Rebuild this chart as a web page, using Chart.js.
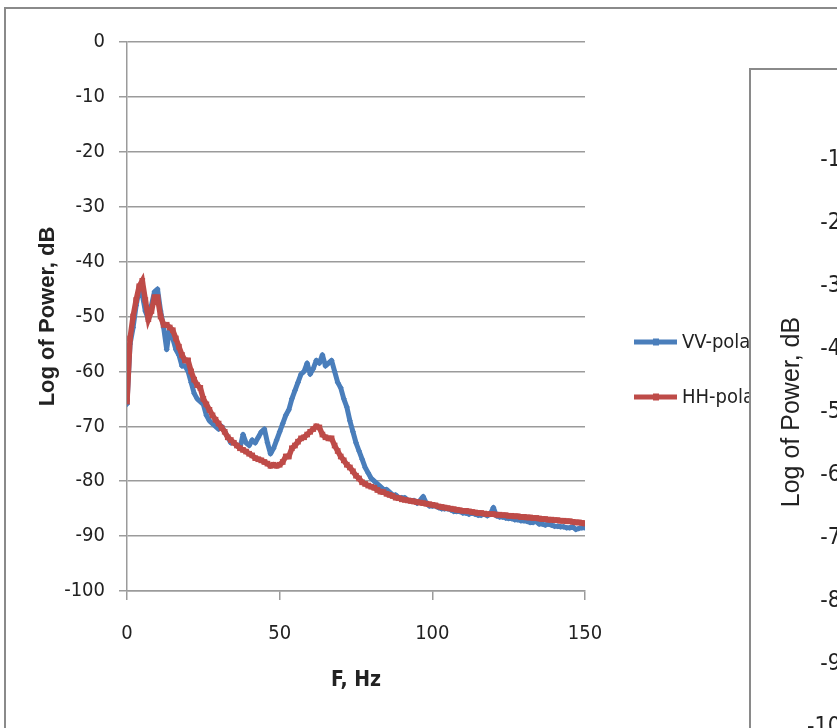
<!DOCTYPE html>
<html>
<head>
<meta charset="utf-8">
<script src="https://cdn.jsdelivr.net/npm/chart.js@4.4.1/dist/chart.umd.min.js"></script>
<style>
    html, body { margin: 0; padding: 0; background: #fff; overflow: hidden; width: 837px; height: 728px; }
    .panel { position: absolute; background: #fff; border: 2px solid #8a8a8a; }
    #leftPanel { left: 4px; top: 7px; width: 1000px; height: 800px; }
    #rightPanel { left: 749px; top: 68px; width: 400px; height: 800px; }
    canvas { position: absolute; }
</style>
</head>
<body>
<div class="panel" id="leftPanel"><canvas id="specChart" width="800" height="719"></canvas></div>
<div class="panel" id="rightPanel"><canvas id="specChart2" width="300" height="700"></canvas></div>
<script>
// Frequency axis, Hz
const freqHz = [
    0, 1, 2, 3, 4, 5, 6, 7, 8, 9, 10, 11, 12, 13, 14, 15, 16, 17, 18, 19,
    20, 21, 22, 23, 24, 25, 26, 27, 28, 29, 30, 31, 32, 33, 34, 35, 36, 37, 38, 39,
    40, 41, 42, 43, 44, 45, 46, 47, 48, 49, 50, 51, 52, 53, 54, 55, 56, 57, 58, 59,
    60, 61, 62, 63, 64, 65, 66, 67, 68, 69, 70, 71, 72, 73, 74, 75, 76, 77, 78, 79,
    80, 81, 82, 83, 84, 85, 86, 87, 88, 89, 90, 91, 92, 93, 94, 95, 96, 97, 98, 99,
    100, 101, 102, 103, 104, 105, 106, 107, 108, 109, 110, 111, 112, 113, 114, 115, 116, 117, 118, 119,
    120, 121, 122, 123, 124, 125, 126, 127, 128, 129, 130, 131, 132, 133, 134, 135, 136, 137, 138, 139,
    140, 141, 142, 143, 144, 145, 146, 147, 148, 149, 150
];

// VV-polarization spectrum, dB
const vvPower = [
    -66, -55, -52, -48, -45, -46, -49, -50.5, -48, -45.5, -45, -49, -52, -56, -52, -54, -56, -57, -59, -59,
    -60, -62, -64, -65, -65.5, -66, -68, -69, -69.5, -70, -70.5, -70, -71, -72, -73, -73, -73.5, -74, -71.5, -73,
    -73.5, -72.5, -73, -72, -71, -70.5, -73, -75, -74, -72.5, -71, -69.5, -68, -67, -65, -63.5, -62, -60.5, -60, -58.5,
    -60.5, -59.5, -58, -58.5, -57, -59, -58.5, -58, -60, -62, -63, -65, -66.5, -69, -71, -73, -74.5, -76, -77.5, -78.5,
    -79.5, -80, -80.5, -81, -81.5, -81.5, -82, -82.5, -82.5, -83, -83, -83, -83.5, -83.5, -83.5, -84, -83.5, -82.8, -84, -84.5,
    -84.5, -84.5, -84.8, -85, -85, -85, -85.2, -85.5, -85.5, -85.5, -85.8, -85.8, -86, -85.8, -86, -86.2, -86.2, -86, -86.3, -86,
    -84.8, -86.3, -86.5, -86.5, -86.7, -86.8, -86.8, -87, -87, -87.2, -87.2, -87.3, -87.5, -87.5, -87.3, -87.8, -87.8, -88, -87.8, -88,
    -88.2, -88.2, -88.3, -88.3, -88.5, -88.5, -88.3, -88.8, -88.6, -88.5, -88.5
];

// HH-polarization spectrum, dB
const hhPower = [
    -65.5, -54, -50, -47, -44.5, -43.5, -47, -50.5, -49, -46.5, -46.5, -50, -51.5, -51.5, -52, -52.5, -54, -55.5, -57, -58,
    -58, -60, -61.5, -62.5, -63, -65, -66, -67, -68, -68.8, -69.5, -70.3, -71, -72, -72.5, -73, -73.5, -74, -74.3, -74.6,
    -75, -75.3, -75.8, -76, -76.2, -76.5, -76.8, -77.2, -77, -77.2, -77, -76.5, -75.5, -75.5, -74, -73.5, -72.8, -72.2, -72, -71.5,
    -71, -70.5, -70, -70.2, -71.5, -72, -72.2, -72.2, -73.5, -74.5, -75.5, -76.2, -77, -77.5, -78.2, -79, -79.5, -80.2, -80.5, -80.8,
    -81, -81.2, -81.6, -81.9, -82, -82.3, -82.5, -82.7, -83, -83.1, -83.3, -83.4, -83.5, -83.6, -83.7, -83.8, -83.9, -84, -84.1, -84.2,
    -84.3, -84.4, -84.6, -84.7, -84.8, -84.9, -85, -85.1, -85.2, -85.3, -85.4, -85.4, -85.5, -85.6, -85.7, -85.8, -85.8, -85.9, -86, -86,
    -86, -86.1, -86.1, -86.2, -86.2, -86.3, -86.3, -86.4, -86.4, -86.5, -86.5, -86.6, -86.6, -86.7, -86.7, -86.8, -86.9, -86.9, -87, -87,
    -87.1, -87.1, -87.2, -87.2, -87.3, -87.3, -87.4, -87.5, -87.5, -87.6, -87.7
];

const seriesLabels = ['VV-polarization', 'HH-polarization'];

const COLORS = {
    vv: '#4a7ebb',
    hh: '#be4b48',
    grid: '#9b9b9b',
    text: '#222222'
};

const NARROW = '"Liberation Sans Narrow", "DejaVu Sans Condensed", "Open Sans", sans-serif';
const WIDE = '"Liberation Sans", Arial, sans-serif';

function toPoints(ys) {
    return freqHz.map((f, i) => ({ x: f, y: ys[i] }));
}

// Legend to the right of the plot, line sample + label
const sideLegend = {
    id: 'sideLegend',
    afterDraw(chart) {
        const { ctx, chartArea } = chart;
        const x0 = chartArea.right + 49;
        chart.data.datasets.forEach((ds, i) => {
            const y = chartArea.top + 300 + i * 55;
            ctx.save();
            ctx.strokeStyle = ds.borderColor;
            ctx.lineWidth = 5;
            ctx.beginPath();
            ctx.moveTo(x0, y);
            ctx.lineTo(x0 + 43, y);
            ctx.stroke();
            ctx.fillStyle = ds.borderColor;
            ctx.fillRect(x0 + 19, y - 3.5, 6, 7);
            ctx.font = '20px ' + NARROW;
            ctx.fillStyle = COLORS.text;
            ctx.textBaseline = 'middle';
            ctx.fillText(ds.label, x0 + 48, y + 1);
            ctx.restore();
        });
    }
};

new Chart(document.getElementById('specChart'), {
    type: 'line',
    data: {
        datasets: [{
            label: seriesLabels[0],
            data: toPoints(vvPower),
            borderColor: COLORS.vv,
            backgroundColor: COLORS.vv,
            borderWidth: 5,
            borderJoinStyle: 'round',
            pointStyle: 'rectRot',
            pointRadius: 3,
            pointBorderWidth: 0,
            order: 1
        }, {
            label: seriesLabels[1],
            data: toPoints(hhPower),
            borderColor: COLORS.hh,
            backgroundColor: COLORS.hh,
            borderWidth: 5.5,
            pointStyle: 'rect',
            pointRadius: 4,
            pointBorderWidth: 0,
            order: 0
        }]
    },
    options: {
        responsive: false,
        animation: false,
        layout: { padding: { left: 0, top: 33, right: 221, bottom: 27 } },
        plugins: {
            legend: { display: false },
            tooltip: { enabled: false }
        },
        scales: {
            x: {
                type: 'linear',
                min: 0,
                max: 150,
                afterFit: s => { s.height = 110; },
                border: { display: true, color: COLORS.grid, width: 1.5 },
                grid: { drawOnChartArea: false, drawTicks: true, tickLength: 9, color: COLORS.grid, lineWidth: 1.5 },
                ticks: {
                    stepSize: 50,
                    padding: 22,
                    maxRotation: 0,
                    color: COLORS.text,
                    font: { family: NARROW, size: 20 }
                },
                title: {
                    display: true,
                    text: 'F, Hz',
                    color: COLORS.text,
                    padding: { top: 0, bottom: 8 },
                    font: { family: NARROW, size: 21, weight: 'bold' }
                }
            },
            y: {
                min: -100,
                max: 0,
                afterFit: s => { s.width = 121; },
                border: { display: true, color: COLORS.grid, width: 1.5 },
                grid: { color: COLORS.grid, lineWidth: 1.5, tickLength: 8 },
                ticks: {
                    stepSize: 10,
                    padding: 14,
                    color: COLORS.text,
                    font: { family: NARROW, size: 20 }
                },
                title: {
                    display: true,
                    text: 'Log of Power, dB',
                    color: COLORS.text,
                    padding: { top: 29, bottom: 0 },
                    font: { family: WIDE, size: 22, weight: 'bold' }
                }
            }
        }
    },
    plugins: [sideLegend]
});

// Neighbouring panel, same power axis
new Chart(document.getElementById('specChart2'), {
    type: 'line',
    data: { datasets: [] },
    options: {
        responsive: false,
        animation: false,
        layout: { padding: { left: 0, top: 27, right: 0, bottom: 43 } },
        plugins: { legend: { display: false }, tooltip: { enabled: false } },
        scales: {
            x: { type: 'linear', min: 0, max: 150, display: false },
            y: {
                min: -100,
                max: 0,
                afterFit: s => { s.width = 115; },
                border: { display: false },
                grid: { display: false },
                ticks: {
                    stepSize: 10,
                    padding: 4,
                    color: COLORS.text,
                    font: { family: NARROW, size: 23 }
                },
                title: {
                    display: true,
                    text: 'Log of Power, dB',
                    color: COLORS.text,
                    padding: { top: 26, bottom: 0 },
                    font: { family: WIDE, size: 25 }
                }
            }
        }
    }
});
</script>
</body>
</html>
